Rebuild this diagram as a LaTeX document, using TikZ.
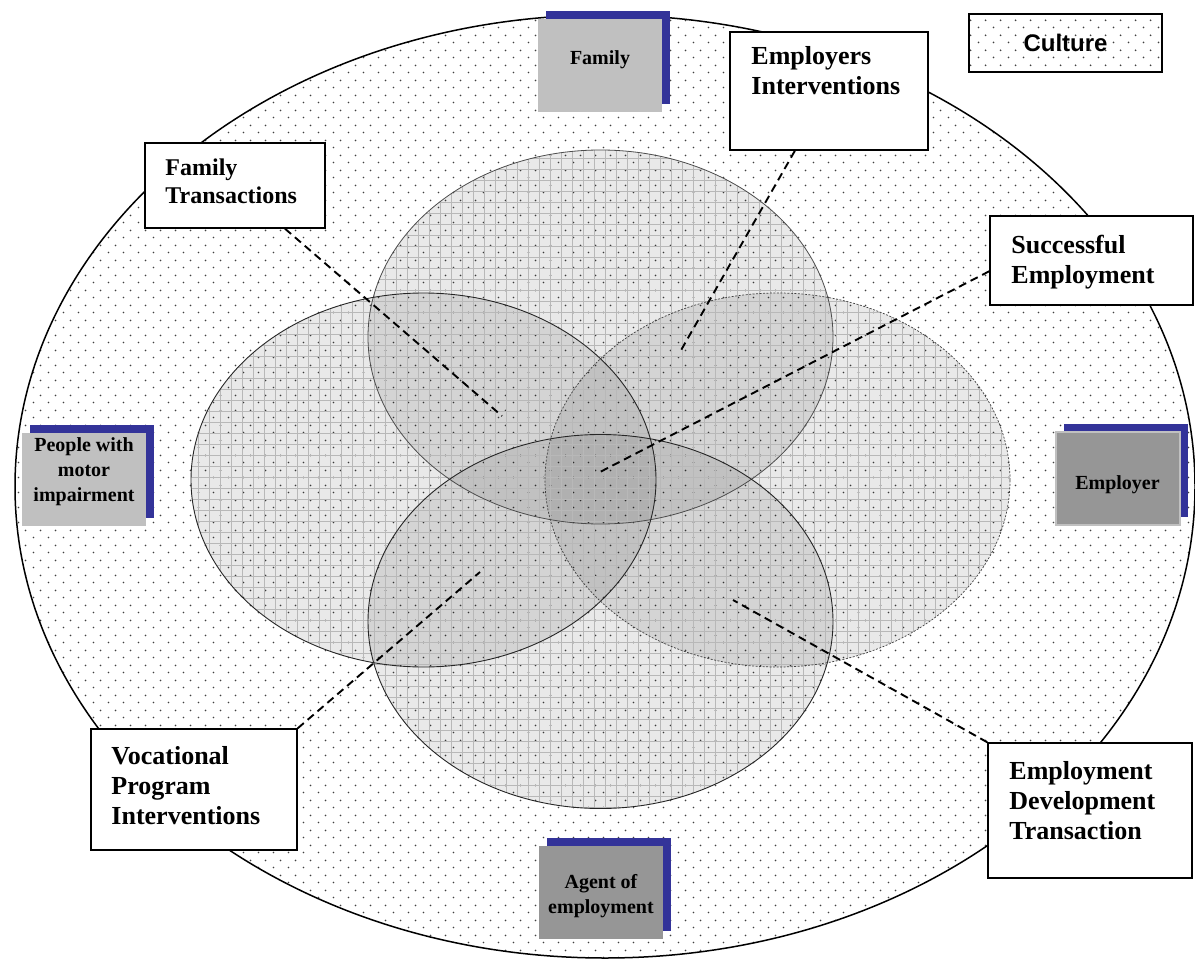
\documentclass[tikz,border=0pt]{standalone}
\usepackage{fontspec}
\setmainfont{Liberation Serif}
\setsansfont{Liberation Sans}
\usetikzlibrary{patterns.meta, shadows, positioning}

\definecolor{shadowblue}{HTML}{333399}
\definecolor{lightbox}{HTML}{C0C0C0}
\definecolor{deepbox}{HTML}{969696}

% staggered dots of the culture field
\pgfdeclarepattern{
  name=culturedots, type=uncolored,
  bottom left={\pgfpoint{0pt}{0pt}}, top right={\pgfpoint{15pt}{15pt}},
  tile size={\pgfpoint{15pt}{15pt}},
  code={
    \pgfpathcircle{\pgfpoint{3.75pt}{3.75pt}}{1pt}
    \pgfpathcircle{\pgfpoint{11.25pt}{11.25pt}}{1pt}
    \pgfusepath{fill}
  }
}
% fine mesh of the transaction ellipses
\pgfdeclarepattern{
  name=meshgrid, type=uncolored,
  bottom left={\pgfpoint{-.5pt}{-.5pt}}, top right={\pgfpoint{11.5pt}{11.5pt}},
  tile size={\pgfpoint{11pt}{11pt}},
  code={
    \pgfsetlinewidth{0.6pt}
    \pgfpathmoveto{\pgfpoint{0pt}{0pt}}\pgfpathlineto{\pgfpoint{11pt}{0pt}}
    \pgfpathmoveto{\pgfpoint{0pt}{0pt}}\pgfpathlineto{\pgfpoint{0pt}{11pt}}
    \pgfusepath{stroke}
  }
}

\begin{document}
\begin{tikzpicture}[
  x=1pt, y=-1pt,
  notebox/.style={draw, line width=1.5pt, fill=white, inner sep=0pt},
  notetext/.style={anchor=north west, inner sep=0pt, align=left, font=\fontsize{26}{30}\selectfont\bfseries},
  actor/.style={minimum width=124pt, minimum height=93pt, inner sep=0pt, align=center,
    font=\fontsize{20}{25}\selectfont\bfseries,
    drop shadow={shadow xshift=8pt, shadow yshift=8pt, fill=shadowblue, opacity=1}},
  inshade/.style={fill=black, fill opacity=0.085},
  inmesh/.style={pattern=meshgrid, pattern color=black!28, fill opacity=0.3},
  leader/.style={dash pattern=on 8pt off 5pt, line width=1.9pt}
]
  \fill[white] (0,0) rectangle (1195,961);
  \useasboundingbox (0,0) rectangle (1195,961);

  % culture field
  \draw[line width=1.5pt, pattern=culturedots, pattern color=black!75]
    (605,486.5) ellipse [x radius=590pt, y radius=471.5pt];

  % transaction ellipses
  \coordinate (etop) at (600.5,337);
  \coordinate (eleft) at (423.5,480);
  \coordinate (eright) at (777.5,480);
  \coordinate (ebot) at (600.5,621.5);
  \foreach \c in {etop, eleft, eright, ebot} {
    \fill[inshade] (\c) ellipse [x radius=232.5pt, y radius=187pt];
  }
  \foreach \c in {etop, eleft, eright, ebot} {
    \fill[inmesh] (\c) ellipse [x radius=232.5pt, y radius=187pt];
  }
  \draw[black!70, line width=0.8pt] (etop) ellipse [x radius=232.5pt, y radius=187pt];
  \draw[black!85, line width=0.9pt] (eleft) ellipse [x radius=232.5pt, y radius=187pt];
  \draw[black!85, line width=0.9pt] (ebot) ellipse [x radius=232.5pt, y radius=187pt];
  \draw[black!75, line width=0.7pt, dash pattern=on 2pt off 1.5pt] (eright) ellipse [x radius=232.5pt, y radius=187pt];

  % leader ends
  \coordinate (ftend) at (502,416);
  \coordinate (eiend) at (680,352);
  \coordinate (seend) at (600,472);
  \coordinate (vpend) at (480,572);
  \coordinate (edend) at (733,600);

  % text boxes
  \node[notebox, minimum width=198pt, minimum height=118pt] (ei) at (829,91) {};
  \node[notetext] (eitext) at ([xshift=22pt, yshift=-15pt]ei.north west) {Employers\\Interventions};
  \node[notebox, minimum width=180pt, minimum height=85pt] (ft) at (235,185.5) {};
  \node[notetext, font=\fontsize{24}{28}\selectfont\bfseries] (fttext) at ([xshift=21pt, yshift=-16pt]ft.north west) {Family\\Transactions};
  \node[notebox, minimum width=203pt, minimum height=89pt] (se) at (1091.5,260.5) {};
  \node[notetext] (setext) at ([xshift=22pt, yshift=-20pt]se.north west) {Successful\\Employment};
  \node[notebox, minimum width=206pt, minimum height=121pt] (vp) at (194,789.5) {};
  \node[notetext] (vptext) at ([xshift=21pt, yshift=-18pt]vp.north west) {Vocational\\Program\\Interventions};
  \node[notebox, minimum width=204pt, minimum height=135pt] (ed) at (1090,810.5) {};
  \node[notetext] (edtext) at ([xshift=22pt, yshift=-19pt]ed.north west) {Employment\\Development\\Transaction};

  \draw[leader] (ft) -- (ftend);
  \draw[leader] (ei) -- (eiend);
  \draw[leader] (se.186) -- (seend);
  \draw[leader] (vp.north east) -- (vpend);
  \draw[leader] (ed.north west) -- (edend);

  % actors
  \node[actor, fill=lightbox, text depth=16pt] (fam) at (600,65.5) {Family};
  \node[actor, fill=lightbox, text depth=19pt] (pmi) at (84,479.5) {People with\\motor\\impairment};
  \node[actor, fill=deepbox, draw=lightbox, line width=2pt, text height=26pt] (emp) at (1117.5,478.5) {Employer};
  \node[actor, fill=deepbox, text height=46pt] (age) at (601,892.5) {Agent of\\employment};

  % legend
  \node[draw, line width=1.5pt, fill=white, minimum width=193pt, minimum height=58pt] (cultbg) at (1065.5,43) {};
  \node[draw, line width=1.5pt, pattern=culturedots, pattern color=black!75, minimum width=193pt, minimum height=58pt,
    font=\sffamily\fontsize{24}{28}\selectfont\bfseries] (cult) at (1065.5,43) {Culture};
\end{tikzpicture}
\end{document}
